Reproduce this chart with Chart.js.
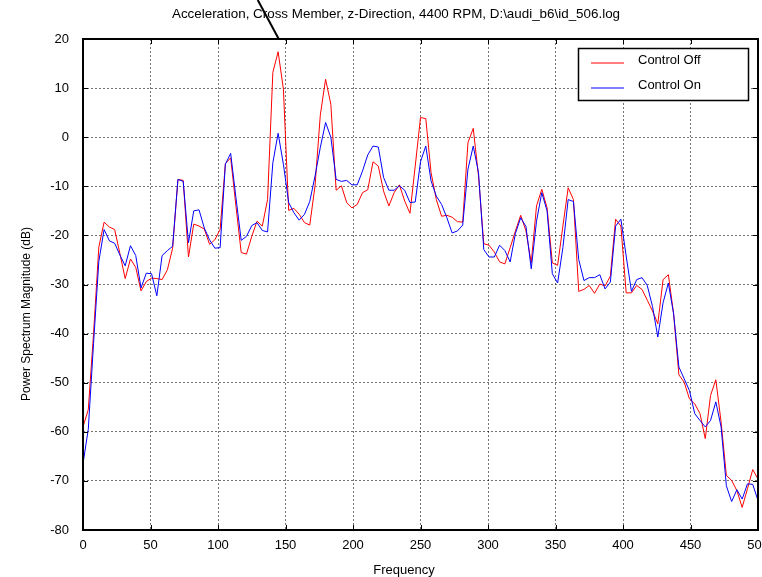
<!DOCTYPE html>
<html>
<head>
<meta charset="utf-8">
<script src="https://cdn.jsdelivr.net/npm/chart.js@4/dist/chart.umd.min.js"></script>
<style>
  html, body { margin: 0; padding: 0; background: #fff; }
  #wrap { width: 762px; height: 577px; position: relative; }
</style>
</head>
<body>
<div id="wrap"><canvas id="spectrum"></canvas></div>
<script>
// FFT bins: 129 bins from 0 to 500 Hz
const binCount = 129;
const binWidth = 500 / 128;

const controlOff = [
  -59, -55.5, -40, -22.4, -17.3, -18.3, -18.8, -23.7, -28.8, -24.8,
  -26.5, -31.3, -29.4, -28.7, -28.8, -29, -27, -22.6, -8.6, -8.8,
  -24.4, -17.7, -18.1, -18.7, -21.8, -20.9, -18.8, -5.4, -4.2, -14,
  -23.5, -23.8, -20.2, -17.1, -18.1, -12.7, 13.2, 17.4, 9.8, -14.9,
  -14.5, -15.7, -17.4, -17.9, -9.9, 4.5, 11.8, 6.7, -10.8, -9.9,
  -13.3, -14.4, -13.7, -11.3, -10.7, -5.0, -5.9, -11, -14, -11.3,
  -9.7, -13, -15.5, -5.9, 4.0, 3.8, -7.2, -12.7, -16.1, -15.9,
  -16.3, -17.2, -17.3, -1.1, 1.8, -7.9, -21.7, -22.0, -23.4, -25.4,
  -25.8, -22.5, -19.1, -15.9, -19.1, -25.6, -14.0, -10.6, -14.4, -25.6,
  -26.1, -18.1, -10.3, -12.7, -31.4, -31.0, -30.2, -31.8, -29.9, -30.3,
  -28.3, -16.7, -18.1, -31.7, -31.7, -30.2, -31.0, -33.2, -35.4, -38,
  -29.0, -28.0, -36, -48.4, -49.9, -53.3, -54.3, -56.3, -61.4, -52.6,
  -49.4, -58.0, -68.9, -69.9, -72.0, -75.4, -71.6, -67.7, -69.6
];

const controlOn = [
  -66.5, -59.5, -42, -25.3, -18.8, -21.1, -21.6, -24, -26.2, -22.1,
  -24.1, -30.7, -27.7, -27.8, -32.3, -24.1, -23.1, -22.2, -8.6, -9.0,
  -21.5, -15.0, -14.8, -18.5, -20.9, -22.6, -22.5, -5.5, -3.3, -12.3,
  -21, -20.2, -18.0, -17.4, -19.0, -19.3, -5.2, 0.8, -5.5, -13.3,
  -15.4, -16.9, -15.7, -13.1, -7.9, -2.1, 3.0, 0, -8.6, -9.0,
  -8.8, -9.7, -9.7, -6.9, -3.6, -1.8, -2.0, -8.2, -10.8, -10.8,
  -9.9, -10.8, -13.3, -13.2, -5, -1.8, -8.9, -12.0, -13.7, -16.4,
  -19.5, -19.1, -17.9, -6.5, -1.8, -7.2, -22.9, -24.4, -24.4, -22.0,
  -23.1, -25.4, -19.6, -16.4, -18.2, -26.8, -17.1, -11.3, -15.0, -27.8,
  -29.7, -22.5, -12.7, -13.1, -24.9, -29.2, -28.6, -28.6, -28.0, -30.9,
  -29.5, -18.1, -16.7, -24.2, -31.4, -29.0, -28.6, -30.2, -34.5, -40.7,
  -33.7, -29.7, -36, -46.8, -49.2, -51.6, -56.3, -57.7, -59.0, -57.7,
  -53.9, -59.0, -71.0, -74.2, -71.8, -73.7, -70.6, -70.7, -74.0
];

const seriesNames = ['Control Off', 'Control On'];
const seriesColors = ['#ff0000', '#0000ff'];
const xTicks = [0, 50, 100, 150, 200, 250, 300, 350, 400, 450, 500];
const yTicks = [20, 10, 0, -10, -20, -30, -40, -50, -60, -70, -80];
const titleText = 'Acceleration, Cross Member, z-Direction, 4400 RPM, D:\\audi_b6\\id_506.log';
const xTitle = 'Frequency';
const yTitle = 'Power Spectrum Magnitude (dB)';
const markerFreq = 145;

const freqs = Array.from({ length: binCount }, (_, i) => i * binWidth);
const toPoints = vals => vals.map((v, i) => ({ x: freqs[i], y: v }));

const FONT = '"Liberation Sans", Arial, sans-serif';

// frame, inward ticks, titles, pointer line and boxed legend
const decorPlugin = {
    id: 'decor',
    afterDraw(chart) {
        const { ctx, chartArea: a, scales } = chart;
        const xs = scales.x, ys = scales.y;
        ctx.save();

        // inward tick marks
        ctx.strokeStyle = '#000';
        ctx.lineWidth = 1;
        ctx.beginPath();
        xTicks.forEach(t => {
            const px = Math.round(xs.getPixelForValue(t)) + 0.5;
            ctx.moveTo(px, a.bottom); ctx.lineTo(px, a.bottom - 5);
            ctx.moveTo(px, a.top); ctx.lineTo(px, a.top + 5);
        });
        yTicks.forEach(t => {
            const py = Math.round(ys.getPixelForValue(t)) + 0.5;
            ctx.moveTo(a.left, py); ctx.lineTo(a.left + 5, py);
            ctx.moveTo(a.right, py); ctx.lineTo(a.right - 5, py);
        });
        ctx.stroke();

        // frame
        ctx.lineWidth = 2;
        ctx.strokeRect(a.left, a.top, a.right - a.left, a.bottom - a.top);

        // pointer line coming from above to the peak
        const mx = xs.getPixelForValue(markerFreq);
        ctx.beginPath();
        ctx.moveTo(mx - 21, 0);
        ctx.lineTo(mx, a.top);
        ctx.stroke();

        // titles
        ctx.fillStyle = '#000';
        ctx.textAlign = 'center';
        ctx.textBaseline = 'middle';
        ctx.font = '13.4px ' + FONT;
        ctx.fillText(titleText, 396, 14);
        ctx.font = '13px ' + FONT;
        ctx.fillText(xTitle, 404, 570);
        ctx.save();
        ctx.translate(27, 314);
        ctx.rotate(-Math.PI / 2);
        ctx.font = '12px ' + FONT;
        ctx.fillText(yTitle, 0, 0);
        ctx.restore();

        // legend box
        const bx = 578.5, by = 48.5, bw = 170, bh = 52;
        ctx.fillStyle = '#fff';
        ctx.fillRect(bx, by, bw, bh);
        ctx.lineWidth = 1.5;
        ctx.strokeStyle = '#000';
        ctx.strokeRect(bx, by, bw, bh);
        ctx.font = '13px ' + FONT;
        ctx.textAlign = 'left';
        seriesNames.forEach((name, i) => {
            const ly = 63 + i * 25;
            ctx.strokeStyle = seriesColors[i];
            ctx.lineWidth = 1.2;
            ctx.beginPath();
            ctx.moveTo(591, ly);
            ctx.lineTo(624, ly);
            ctx.stroke();
            ctx.fillStyle = '#000';
            ctx.fillText(name, 638, ly - 2.5);
        });
        ctx.restore();
    }
};

new Chart(document.getElementById('spectrum'), {
    type: 'line',
    data: {
        datasets: [
            {
                label: seriesNames[0],
                data: toPoints(controlOff),
                borderColor: seriesColors[0],
                borderWidth: 1,
                pointRadius: 0,
                tension: 0,
                order: 1
            },
            {
                label: seriesNames[1],
                data: toPoints(controlOn),
                borderColor: seriesColors[1],
                borderWidth: 1,
                pointRadius: 0,
                tension: 0,
                order: 0
            }
        ]
    },
    options: {
        responsive: true,
        maintainAspectRatio: false,
        animation: false,
        layout: { padding: { left: 0, right: 4, top: 39, bottom: 0 } },
        plugins: {
            legend: { display: false },
            title: { display: false },
            tooltip: { enabled: false }
        },
        scales: {
            x: {
                type: 'linear',
                min: 0,
                max: 500,
                afterBuildTicks: s => { s.ticks = xTicks.map(v => ({ value: v })); },
                afterFit: s => { s.height = 47; s.paddingLeft = 0; s.paddingRight = 0; },
                grid: { color: 'rgba(0,0,0,0.55)', drawTicks: false },
                border: { display: false, dash: [2, 2] },
                ticks: { color: '#000', font: { family: FONT, size: 13 }, padding: 8, maxRotation: 0 }
            },
            y: {
                min: -80,
                max: 20,
                afterBuildTicks: s => { s.ticks = yTicks.map(v => ({ value: v })); },
                afterFit: s => { s.width = 83; s.paddingTop = 0; s.paddingBottom = 0; },
                grid: { color: 'rgba(0,0,0,0.55)', drawTicks: false },
                border: { display: false, dash: [2, 2] },
                ticks: { color: '#000', font: { family: FONT, size: 13 }, padding: 14 }
            }
        }
    },
    plugins: [decorPlugin]
});
</script>
</body>
</html>
